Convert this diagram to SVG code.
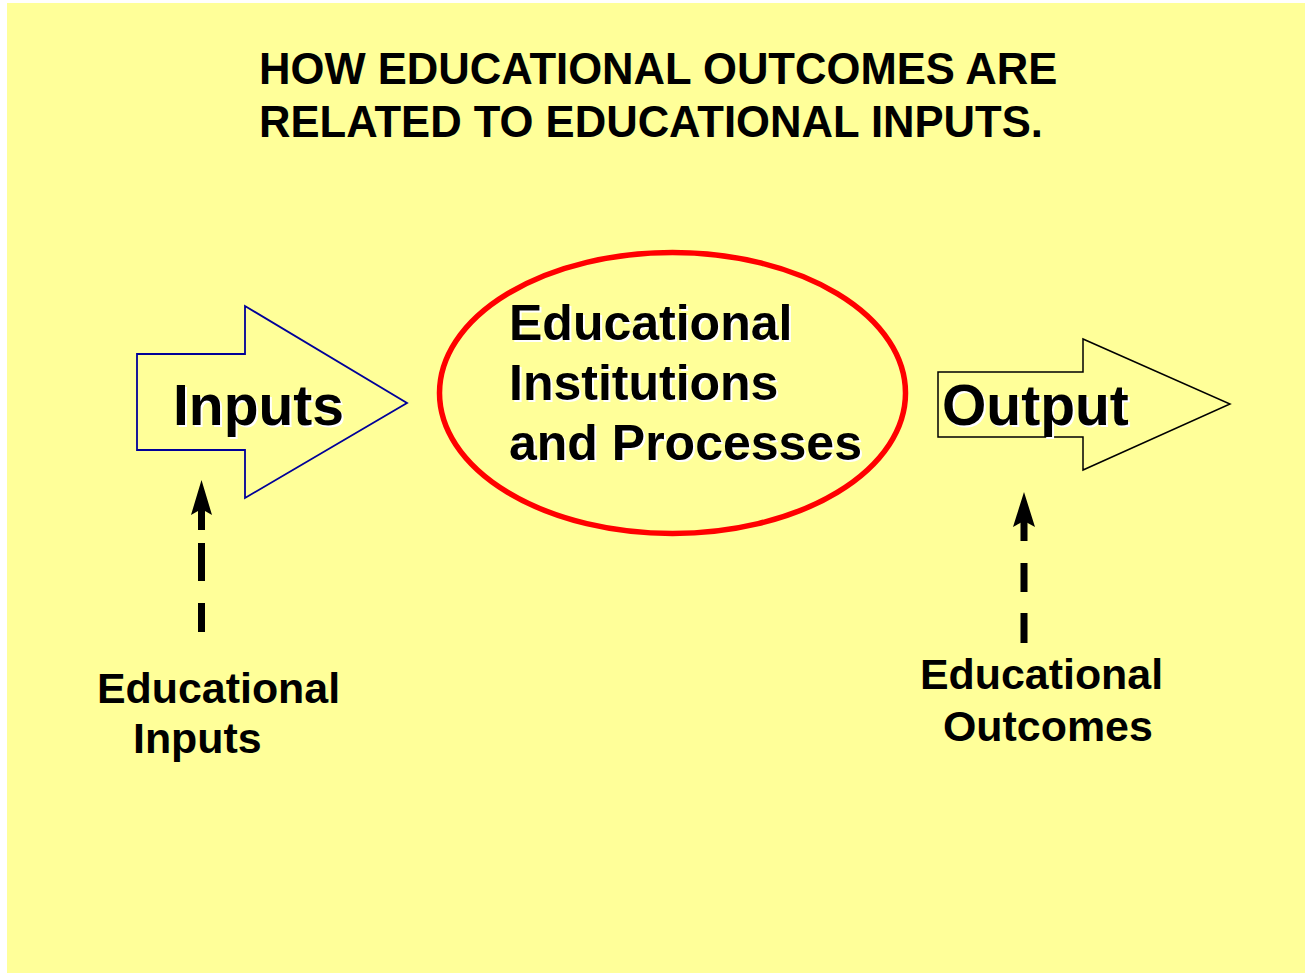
<svg xmlns="http://www.w3.org/2000/svg" width="1308" height="974" viewBox="0 0 1308 974">
<style>
  text { font-family: "Liberation Sans", Arial, sans-serif; font-weight: bold; fill: #000; }
  .title { font-size: 43.6px; }
  .lbl { font-size: 42.9px; }
  .big { font-size: 50px; }
  .arrowtxt { font-size: 57px; }
  .shadow { fill: #fff; }
  .dash { fill: #000; }
</style>
<rect x="0" y="0" width="1308" height="974" fill="#ffffff"/>
<rect x="7" y="3" width="1298" height="970" fill="#FFFF99"/>

<g id="title">
  <text class="title" x="259" y="84">HOW EDUCATIONAL OUTCOMES ARE</text>
  <text class="title" x="259" y="137">RELATED TO EDUCATIONAL INPUTS.</text>
</g>

<g id="inputs-arrow">
  <polygon points="137,354 245,354 245,306 407,403 245,498 245,450 137,450" fill="#FFFF99" stroke="#000099" stroke-width="1.8"/>
  <text class="arrowtxt shadow" x="175" y="427">Inputs</text>
  <text class="arrowtxt" x="173" y="425">Inputs</text>
</g>

<g id="institutions">
  <ellipse cx="672.5" cy="393" rx="233" ry="140.5" fill="#FFFF99" stroke="#FF0000" stroke-width="5.5"/>
  <text class="big shadow" x="511" y="342">Educational</text>
  <text class="big" x="509" y="340">Educational</text>
  <text class="big shadow" x="511" y="402">Institutions</text>
  <text class="big" x="509" y="400">Institutions</text>
  <text class="big shadow" x="511" y="462">and Processes</text>
  <text class="big" x="509" y="460">and Processes</text>
</g>

<g id="output-arrow">
  <polygon points="938,372 1083,372 1083,339 1230,404 1083,470 1083,437 938,437" fill="#FFFF99" stroke="#000" stroke-width="1.5"/>
  <text class="arrowtxt shadow" x="944" y="427">Output</text>
  <text class="arrowtxt" x="942" y="425">Output</text>
</g>

<g id="educational-inputs">
  <text class="lbl" x="97" y="703">Educational</text>
  <text class="lbl" x="133" y="753">Inputs</text>
</g>

<g id="educational-outcomes">
  <text class="lbl" x="920" y="689">Educational</text>
  <text class="lbl" x="943" y="741">Outcomes</text>
</g>

<g id="connectors">
  <g id="conn-inputs">
    <polygon class="dash" points="201.5,480 191,515 201.5,509 212,515"/>
    <rect class="dash" x="198" y="509" width="7" height="21"/>
    <rect class="dash" x="198" y="543" width="7" height="38"/>
    <rect class="dash" x="198" y="603" width="7" height="29"/>
  </g>
  <g id="conn-outcomes">
    <polygon class="dash" points="1024,492 1013,527 1024,521 1035,527"/>
    <rect class="dash" x="1020.5" y="521" width="7" height="20"/>
    <rect class="dash" x="1020.5" y="563" width="7" height="29"/>
    <rect class="dash" x="1020.5" y="613" width="7" height="30"/>
  </g>
</g>
</svg>
